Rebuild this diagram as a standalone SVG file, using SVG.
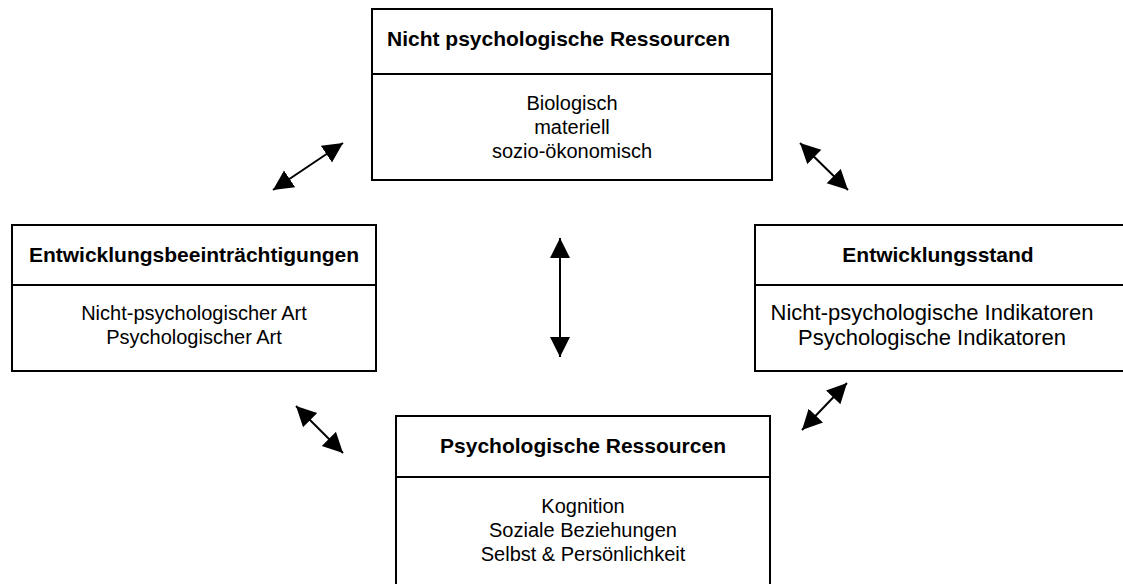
<svg xmlns="http://www.w3.org/2000/svg" width="1123" height="584" viewBox="0 0 1123 584">
<style>
.box{fill:#fff;stroke:#000;stroke-width:2}
.div{stroke:#000;stroke-width:2}
.t{font-family:"Liberation Sans",Arial,sans-serif;font-size:21px;font-weight:bold;fill:#000}
.b{font-family:"Liberation Sans",Arial,sans-serif;font-size:20px;fill:#000;text-anchor:middle}
.b.l{font-size:22px}
.c{stroke:#000;stroke-width:2;fill:none;marker-start:url(#ah);marker-end:url(#ah)}
</style>
<defs>
<marker id="ah" markerUnits="userSpaceOnUse" markerWidth="22" markerHeight="22" refX="20" refY="10" orient="auto-start-reverse" viewBox="0 0 22 22">
<path d="M0,0 L20,10 L0,20 z" fill="#000"/>
</marker>
</defs>
<rect width="1123" height="584" fill="#fff"/>
<g id="nicht-psych">
<rect class="box" x="372" y="9" width="400" height="171"/>
<line class="div" x1="372" y1="74" x2="772" y2="74"/>
<text class="t" x="387" y="46">Nicht psychologische Ressourcen</text>
<text class="b" x="572" y="110">Biologisch</text>
<text class="b" x="572" y="134">materiell</text>
<text class="b" x="572" y="158">sozio-ökonomisch</text>
</g>
<g id="beeintraechtigungen">
<rect class="box" x="12" y="225" width="364" height="146"/>
<line class="div" x1="12" y1="285" x2="376" y2="285"/>
<text class="t" x="194" y="262" text-anchor="middle">Entwicklungsbeeinträchtigungen</text>
<text class="b" x="194" y="320">Nicht-psychologischer Art</text>
<text class="b" x="194" y="344">Psychologischer Art</text>
</g>
<g id="entwicklungsstand">
<rect class="box" x="755" y="225" width="380" height="146"/>
<line class="div" x1="755" y1="285" x2="1135" y2="285"/>
<text class="t" x="938" y="262" text-anchor="middle">Entwicklungsstand</text>
<text class="b l" x="932" y="320">Nicht-psychologische Indikatoren</text>
<text class="b l" x="932" y="345">Psychologische Indikatoren</text>
</g>
<g id="psych">
<rect class="box" x="396" y="416" width="374" height="200"/>
<line class="div" x1="396" y1="477" x2="770" y2="477"/>
<text class="t" x="583" y="453" text-anchor="middle">Psychologische Ressourcen</text>
<text class="b" x="583" y="513">Kognition</text>
<text class="b" x="583" y="537">Soziale Beziehungen</text>
<text class="b" x="583" y="561">Selbst &amp; Persönlichkeit</text>
</g>
<g id="connectors">
<line class="c" x1="273" y1="190" x2="343" y2="143"/>
<line class="c" x1="800" y1="143" x2="848" y2="190"/>
<line class="c" x1="560" y1="238" x2="560" y2="357"/>
<line class="c" x1="296" y1="406" x2="343" y2="453"/>
<line class="c" x1="847" y1="383" x2="802" y2="430"/>
</g>
</svg>
